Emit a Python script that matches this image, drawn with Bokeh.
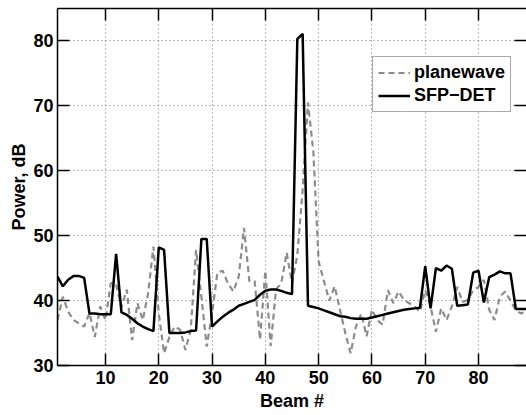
from bokeh.plotting import figure
from bokeh.models import LinearAxis, Range1d, FixedTicker, Legend, LegendItem, ColumnDataSource
from bokeh.embed import file_html
from bokeh.resources import INLINE

beams = list(range(1, 90))
sfp_det = [43.7, 42.2, 43.2, 43.8, 43.8, 43.5, 38.0, 38.0, 37.9, 37.9,
           37.9, 47.2, 38.2, 37.8, 37.2, 36.5, 36.0, 35.6, 35.3, 48.2,
           47.8, 35.0, 35.0, 35.0, 35.1, 35.3, 35.4, 49.5, 49.5, 36.0,
           36.8, 37.5, 38.1, 38.6, 39.2, 39.5, 39.8, 40.1, 40.9, 41.5,
           41.7, 41.7, 41.5, 41.2, 41.0, 80.3, 81.1, 39.2, 39.0, 38.8,
           38.5, 38.2, 37.9, 37.6, 37.5, 37.3, 37.2, 37.2, 37.2, 37.4,
           37.6, 37.8, 38.0, 38.2, 38.4, 38.6, 38.7, 38.8, 38.9, 45.3,
           38.8, 45.0, 44.6, 45.4, 44.9, 39.2, 39.3, 39.4, 44.3, 44.6,
           39.7, 43.6, 44.0, 44.5, 44.2, 44.2, 38.7, 38.7, 38.7]
planewave = [37.0, 40.6, 38.3, 37.0, 36.5, 36.0, 38.1, 34.4, 39.1, 37.0,
             42.7, 42.5, 39.0, 41.7, 33.9, 39.6, 37.0, 41.1, 48.3, 38.0,
             31.9, 34.4, 36.0, 35.5, 32.4, 35.5, 47.8, 40.6, 32.9, 38.0,
             44.3, 44.6, 42.6, 41.4, 43.7, 51.2, 43.0, 43.0, 34.0, 44.6,
             33.0, 41.7, 42.7, 47.4, 42.7, 47.0, 57.0, 70.5, 63.0, 46.0,
             43.0, 40.0, 42.2, 38.6, 35.0, 31.9, 36.0, 38.0, 34.5, 38.6,
             37.0, 36.3, 41.6, 39.6, 41.4, 40.1, 39.6, 39.1, 38.3, 41.6,
             39.1, 35.2, 38.8, 37.0, 39.1, 42.1, 39.8, 40.1, 41.6, 42.1,
             43.2, 38.6, 37.0, 40.6, 41.4, 40.0, 38.5, 38.0, 38.5]
x_ticks = [10, 20, 30, 40, 50, 60, 70, 80]
y_ticks = [30, 40, 50, 60, 70, 80]

FONT = "Liberation Sans"

p = figure(width=526, height=415, output_backend="svg", toolbar_location=None,
           x_range=Range1d(1, 89), y_range=Range1d(30, 85),
           min_border_left=57, min_border_right=0, min_border_top=8, min_border_bottom=50,
           x_axis_label="Beam #", y_axis_label="Power, dB")
p.outline_line_color = None
p.background_fill_color = "white"

src = ColumnDataSource(dict(b=beams, pw=planewave, sd=sfp_det))
r_pw = p.line("b", "pw", source=src, line_color="#8c8c8c", line_width=2.2, line_dash="6 4")
r_sd = p.line("b", "sd", source=src, line_color="black", line_width=2.5)

for ax in (p.xaxis[0], p.yaxis[0]):
    ax.axis_line_color = "black"
    ax.axis_line_width = 1.5
    ax.major_tick_in = 12
    ax.major_tick_out = 0
    ax.major_tick_line_width = 1.5
    ax.minor_tick_in = 0
    ax.minor_tick_out = 0
    ax.major_label_text_font = FONT
    ax.major_label_text_font_style = "bold"
    ax.major_label_text_font_size = "18px"
    ax.major_label_text_color = "black"
    ax.axis_label_text_font = FONT
    ax.axis_label_text_font_style = "bold"
    ax.axis_label_text_font_size = "18px"
    ax.axis_label_text_color = "black"
p.xaxis[0].ticker = FixedTicker(ticks=x_ticks)
p.yaxis[0].ticker = FixedTicker(ticks=y_ticks)
p.xaxis[0].major_label_standoff = 5
p.yaxis[0].major_label_standoff = 4
p.xaxis[0].axis_label_standoff = 4
p.yaxis[0].axis_label_standoff = 1

top = LinearAxis(ticker=FixedTicker(ticks=x_ticks))
right = LinearAxis(ticker=FixedTicker(ticks=y_ticks))
for ax, line in ((top, "black"), (right, None)):
    ax.axis_line_color = line
    ax.axis_line_width = 1.5
    ax.major_tick_in = 12
    ax.major_tick_out = 0
    ax.major_tick_line_width = 1.5
    ax.minor_tick_in = 0
    ax.minor_tick_out = 0
    ax.major_label_text_font_size = "0px"
    ax.major_label_text_color = None
    ax.major_label_standoff = 0
p.add_layout(top, "above")
p.add_layout(right, "right")

for g in (p.xgrid[0], p.ygrid[0]):
    g.grid_line_color = "#333333"
    g.grid_line_dash = "1 3"
    g.grid_line_width = 1
    g.grid_line_alpha = 0.7
p.xgrid[0].ticker = FixedTicker(ticks=x_ticks)
p.ygrid[0].ticker = FixedTicker(ticks=y_ticks)

legend = Legend(items=[LegendItem(label="planewave", renderers=[r_pw]),
                       LegendItem(label="SFP\u2212DET", renderers=[r_sd])],
                location=(315, 253))
legend.label_text_font = FONT
legend.label_text_font_style = "bold"
legend.label_text_font_size = "18px"
legend.label_text_color = "black"
legend.glyph_width = 32
legend.glyph_height = 21
legend.label_height = 21
legend.label_standoff = 4
legend.spacing = 2
legend.padding = 5
legend.margin = 0
legend.border_line_color = "#555555"
legend.border_line_width = 1
legend.background_fill_color = "white"
legend.background_fill_alpha = 1
p.add_layout(legend, "center")

open("out.html", "w").write(file_html(p, INLINE))
